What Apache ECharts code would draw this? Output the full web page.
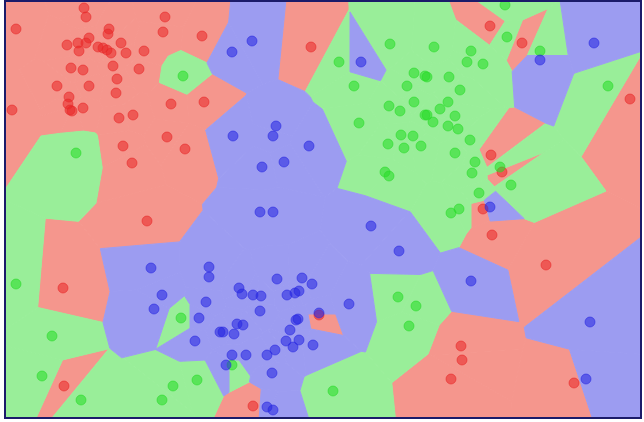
<!DOCTYPE html>
<html>
<head>
  <meta charset="utf-8">
  <title>Nearest neighbour map</title>
  <script src="https://cdn.jsdelivr.net/npm/echarts@6/dist/echarts.min.js"></script>
</head>
<body style="margin:0">
  <div id="container" style="height: 422px; width: 644px"></div>
  <script>
    // points, [x, y] with y growing downwards
    var redPts = [
      [84,8],[86,17],[16,29],[165,17],[163,32],[202,36],[109,29],[108,34],[89,38],
      [67,45],[78,43],[79,51],[86,43],[98,47],[103,48],[107,50],[111,53],[121,43],
      [126,53],[144,51],[71,68],[83,70],[113,66],[139,69],[117,79],[57,86],[89,86],
      [116,93],[69,97],[68,104],[70,110],[72,111],[83,108],[12,110],[119,118],[133,115],
      [171,104],[204,102],[167,137],[185,149],[123,146],[132,163],
      [147,221],[63,288],[64,386],[311,47],[490,26],[522,43],[630,99],[491,155],
      [502,172],[483,209],[253,406],[319,315],[492,235],[546,265],[461,346],[462,360],
      [451,379],[574,383]
    ];
    var greenPts = [
      [183,76],[76,153],[390,44],[339,62],[354,86],[414,73],[425,76],[407,86],[389,106],
      [400,111],[414,102],[425,115],[359,123],[401,135],[413,136],[388,144],[404,148],
      [421,146],[385,172],[389,176],[505,5],[507,37],[434,47],[471,51],[467,62],[483,64],
      [540,51],[427,77],[449,77],[460,90],[448,102],[440,109],[427,115],[433,122],
      [455,116],[448,126],[458,129],[470,140],[455,153],[475,162],[472,173],[500,167],
      [511,185],[479,193],[459,209],[451,213],[608,86],
      [16,284],[52,336],[42,376],[81,400],[181,318],[173,386],[197,380],[162,400],
      [232,365],[398,297],[416,306],[409,326],[333,391]
    ];
    var bluePts = [
      [252,41],[232,52],[361,62],[276,126],[273,136],[233,136],[309,146],[284,162],
      [262,167],[260,212],[273,212],[594,43],[540,60],[490,207],
      [151,268],[209,267],[209,277],[162,295],[154,309],[206,302],[199,318],[195,341],
      [220,332],[371,226],[399,251],[277,279],[302,278],[312,284],[239,288],[242,294],
      [253,295],[261,296],[287,295],[295,293],[299,291],[349,304],[260,311],[296,320],
      [298,319],[319,313],[237,324],[243,325],[223,332],[234,334],[290,330],[286,341],
      [299,340],[293,347],[313,345],[232,355],[246,355],[267,355],[275,350],[226,365],
      [272,373],[267,407],[273,410],[471,281],[590,322],[586,379]
    ];

    var xMin = 5, xMax = 641, yMin = 1, yMax = 418;
    var regionColors = ['#f5968d', '#99ee99', '#9c9cf1'];
    var pointColors = ['rgba(232,40,40,0.7)', 'rgba(40,220,40,0.7)', 'rgba(40,40,225,0.7)'];

    // every point with its class, then one nearest-neighbour cell per point
    var all = [];
    [redPts, greenPts, bluePts].forEach(function (arr, k) {
      arr.forEach(function (p) { all.push([p[0], p[1], k]); });
    });

    function clip(poly, a, b) {
      // keep the half of the plane closer to a than to b
      var nx = b[0] - a[0], ny = b[1] - a[1];
      var mx = (a[0] + b[0]) / 2, my = (a[1] + b[1]) / 2;
      var side = function (p) { return (p[0] - mx) * nx + (p[1] - my) * ny; };
      var out = [];
      for (var i = 0; i < poly.length; i++) {
        var p = poly[i], q = poly[(i + 1) % poly.length];
        var sp = side(p), sq = side(q);
        if (sp <= 0) out.push(p);
        if ((sp < 0 && sq > 0) || (sp > 0 && sq < 0)) {
          var t = sp / (sp - sq);
          out.push([p[0] + t * (q[0] - p[0]), p[1] + t * (q[1] - p[1])]);
        }
      }
      return out;
    }

    var cells = all.map(function (a) {
      var poly = [[xMin, yMin], [xMax, yMin], [xMax, yMax], [xMin, yMax]];
      for (var j = 0; j < all.length && poly.length; j++) {
        var b = all[j];
        if (b === a || (b[0] === a[0] && b[1] === a[1])) continue;
        poly = clip(poly, a, b);
      }
      return poly;
    });

    var chart = echarts.init(document.getElementById('container'));
    chart.setOption({
      animation: false,
      // grid sits on top so its frame is drawn over the coloured cells
      grid: {
        left: xMin, right: 644 - xMax, top: yMin, bottom: 422 - yMax,
        show: true, z: 10, borderColor: '#1b1b6a', borderWidth: 2,
        backgroundColor: 'transparent'
      },
      xAxis: { type: 'value', min: xMin, max: xMax, show: false },
      yAxis: { type: 'value', min: yMin, max: yMax, inverse: true, show: false },
      series: [
        {
          type: 'custom',
          silent: true,
          data: all.map(function (p, i) { return [p[0], p[1], i]; }),
          renderItem: function (params, api) {
            var i = api.value(2);
            var c = regionColors[all[i][2]];
            var pts = cells[i].map(function (p) { return api.coord(p); });
            return {
              type: 'polygon',
              shape: { points: pts },
              style: { fill: c, stroke: c, lineWidth: 1 }
            };
          }
        }
      ].concat([redPts, greenPts, bluePts].map(function (arr, k) {
        return {
          type: 'scatter',
          data: arr,
          symbolSize: 10,
          itemStyle: { color: pointColors[k], borderColor: pointColors[k], borderWidth: 1 },
          z: 3
        };
      }))
    });
  </script>
</body>
</html>
